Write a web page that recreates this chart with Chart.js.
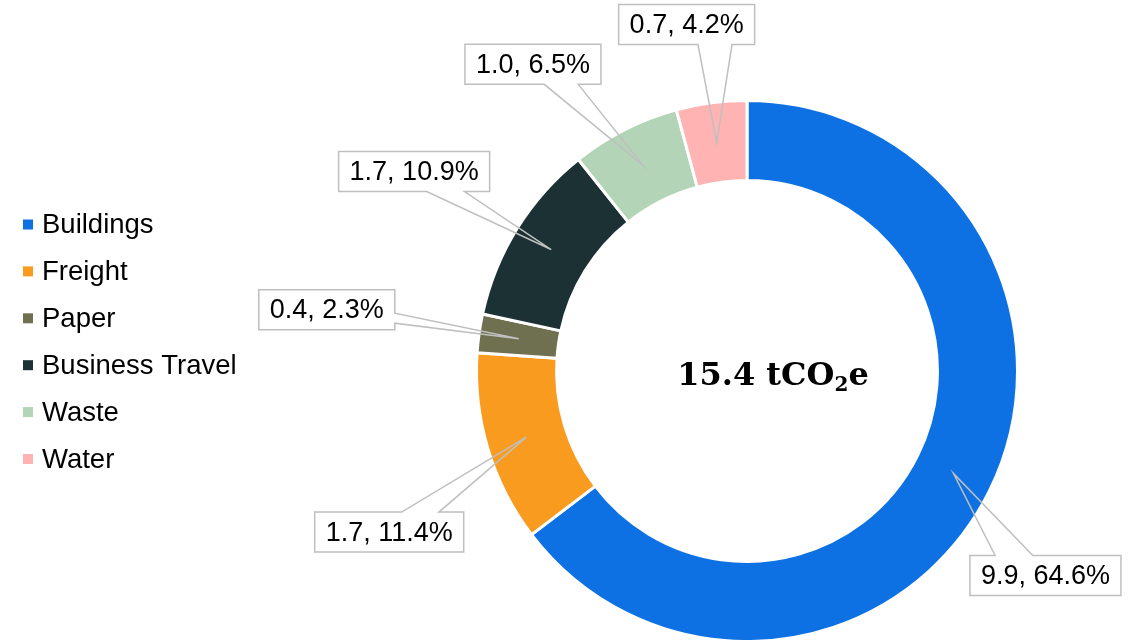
<!DOCTYPE html>
<html>
<head>
<meta charset="utf-8">
<style>
  html, body { margin: 0; padding: 0; background: #fff; overflow: hidden; }
  #chart { display: block; }
</style>
<script src="https://cdn.jsdelivr.net/npm/chart.js@4/dist/chart.umd.min.js"></script>
</head>
<body>
<canvas id="chart" width="1130" height="640"></canvas>
<script>
const categories = ["Buildings", "Freight", "Paper", "Business Travel", "Waste", "Water"];
const emissions = [9.9, 1.7, 0.4, 1.7, 1.0, 0.7]; // tCO2e
const shares = [64.6, 11.4, 2.3, 10.9, 6.5, 4.2]; // % of total
const totalLabel = "15.4";
const colors = ["#0E71E3", "#F99B1E", "#6F7050", "#1C3134", "#B3D4B6", "#FFB3B3"];

// where each callout box sits, relative to the point it points at
const calloutOffsets = [
  [92, 102],
  [-137, 95],
  [-192, -29],
  [-137, -78],
  [-110, -101],
  [-30, -118],
];

const labelFont = '27px "Liberation Sans", Arial, sans-serif';

function drawCallout(ctx, tip, cx, cy, w, h) {
  let l = cx - w / 2, t = cy - h / 2, r = cx + w / 2, b = cy + h / 2;
  let dxPos = tip.x - cx;
  let dyPos = tip.y - cy;
  let dq = dxPos * h / w;
  let dz = Math.abs(dyPos) - Math.abs(dq);
  let x1 = l + w * (dxPos > 0 ? 7 : 2) / 12;
  let x2 = l + w * (dxPos > 0 ? 10 : 5) / 12;
  let y1 = t + h * (dyPos > 0 ? 7 : 2) / 12;
  let y2 = t + h * (dyPos > 0 ? 10 : 5) / 12;

  ctx.beginPath();
  ctx.moveTo(l, t);
  if (dz > 0 && dyPos < 0) {
    ctx.lineTo(x1, t); ctx.lineTo(tip.x, tip.y); ctx.lineTo(x2, t);
  }
  ctx.lineTo(r, t);
  if (dz <= 0 && dxPos > 0) {
    ctx.lineTo(r, y1); ctx.lineTo(tip.x, tip.y); ctx.lineTo(r, y2);
  }
  ctx.lineTo(r, b);
  if (dz > 0 && dyPos > 0) {
    ctx.lineTo(x2, b); ctx.lineTo(tip.x, tip.y); ctx.lineTo(x1, b);
  }
  ctx.lineTo(l, b);
  if (dz <= 0 && dxPos < 0) {
    ctx.lineTo(l, y2); ctx.lineTo(tip.x, tip.y); ctx.lineTo(l, y1);
  }
  ctx.closePath();
  ctx.stroke();
}

const calloutPlugin = {
  id: "callouts",
  afterDatasetsDraw(chart) {
    let ctx = chart.ctx;
    let meta = chart.getDatasetMeta(0);
    ctx.save();
    ctx.font = labelFont;
    ctx.strokeStyle = "#BFBFBF";
    ctx.lineWidth = 1.5;
    ctx.lineJoin = "miter";
    meta.data.forEach(function (arc, i) {
      let tip = arc.getCenterPoint();
      let text = emissions[i].toFixed(1) + ", " + shares[i].toFixed(1) + "%";
      let w = Math.round(ctx.measureText(text).width + 22);
      let h = 40;
      let bx = tip.x + calloutOffsets[i][0];
      let by = tip.y + calloutOffsets[i][1];
      drawCallout(ctx, tip, bx, by, w, h);
      ctx.fillStyle = "#000";
      ctx.textAlign = "center";
      ctx.textBaseline = "middle";
      ctx.fillText(text, bx, by + 1);
    });
    ctx.restore();
  },
};

const legendPlugin = {
  id: "sideLegend",
  afterDraw(chart) {
    let ctx = chart.ctx;
    ctx.save();
    ctx.font = '27.5px "Liberation Sans", Arial, sans-serif';
    ctx.textBaseline = "middle";
    ctx.textAlign = "left";
    chart.data.labels.forEach(function (label, i) {
      let y = 224.5 + i * 46.9;
      ctx.fillStyle = chart.data.datasets[0].backgroundColor[i];
      ctx.fillRect(23, y - 5, 10, 10);
      ctx.fillStyle = "#000";
      ctx.fillText(label, 42, y + 1);
    });
    ctx.restore();
  },
};

const centerTextPlugin = {
  id: "centerText",
  afterDraw(chart) {
    let ctx = chart.ctx;
    let arc = chart.getDatasetMeta(0).data[0];
    let main = totalLabel + " tCO";
    ctx.save();
    ctx.fillStyle = "#000";
    ctx.textBaseline = "alphabetic";
    ctx.textAlign = "left";
    let bigFont = 'bold 32px "DejaVu Serif", serif';
    let smallFont = 'bold 20px "DejaVu Serif", serif';
    ctx.font = bigFont;
    let w1 = ctx.measureText(main).width;
    let w3 = ctx.measureText("e").width;
    ctx.font = smallFont;
    let w2 = ctx.measureText("2").width;
    let total = w1 + w2 + w3;
    let x = arc.x + 26 - total / 2;
    let y = arc.y + 14;
    ctx.font = bigFont;
    ctx.fillText(main, x, y);
    ctx.font = smallFont;
    ctx.fillText("2", x + w1, y + 6);
    ctx.font = bigFont;
    ctx.fillText("e", x + w1 + w2, y);
    ctx.restore();
  },
};

new Chart(document.getElementById("chart").getContext("2d"), {
  type: "doughnut",
  data: {
    labels: categories,
    datasets: [
      {
        data: shares,
        backgroundColor: colors,
        borderColor: "#ffffff",
        borderWidth: 3,
        hoverOffset: 0,
      },
    ],
  },
  options: {
    responsive: false,
    devicePixelRatio: 1,
    animation: false,
    cutout: "70.4%",
    radius: 270.5,
    layout: {
      padding: { left: 478, right: 114, top: 102, bottom: 0 },
    },
    plugins: {
      legend: { display: false },
      tooltip: { enabled: false },
      title: { display: false },
    },
  },
  plugins: [calloutPlugin, legendPlugin, centerTextPlugin],
});
</script>
</body>
</html>
